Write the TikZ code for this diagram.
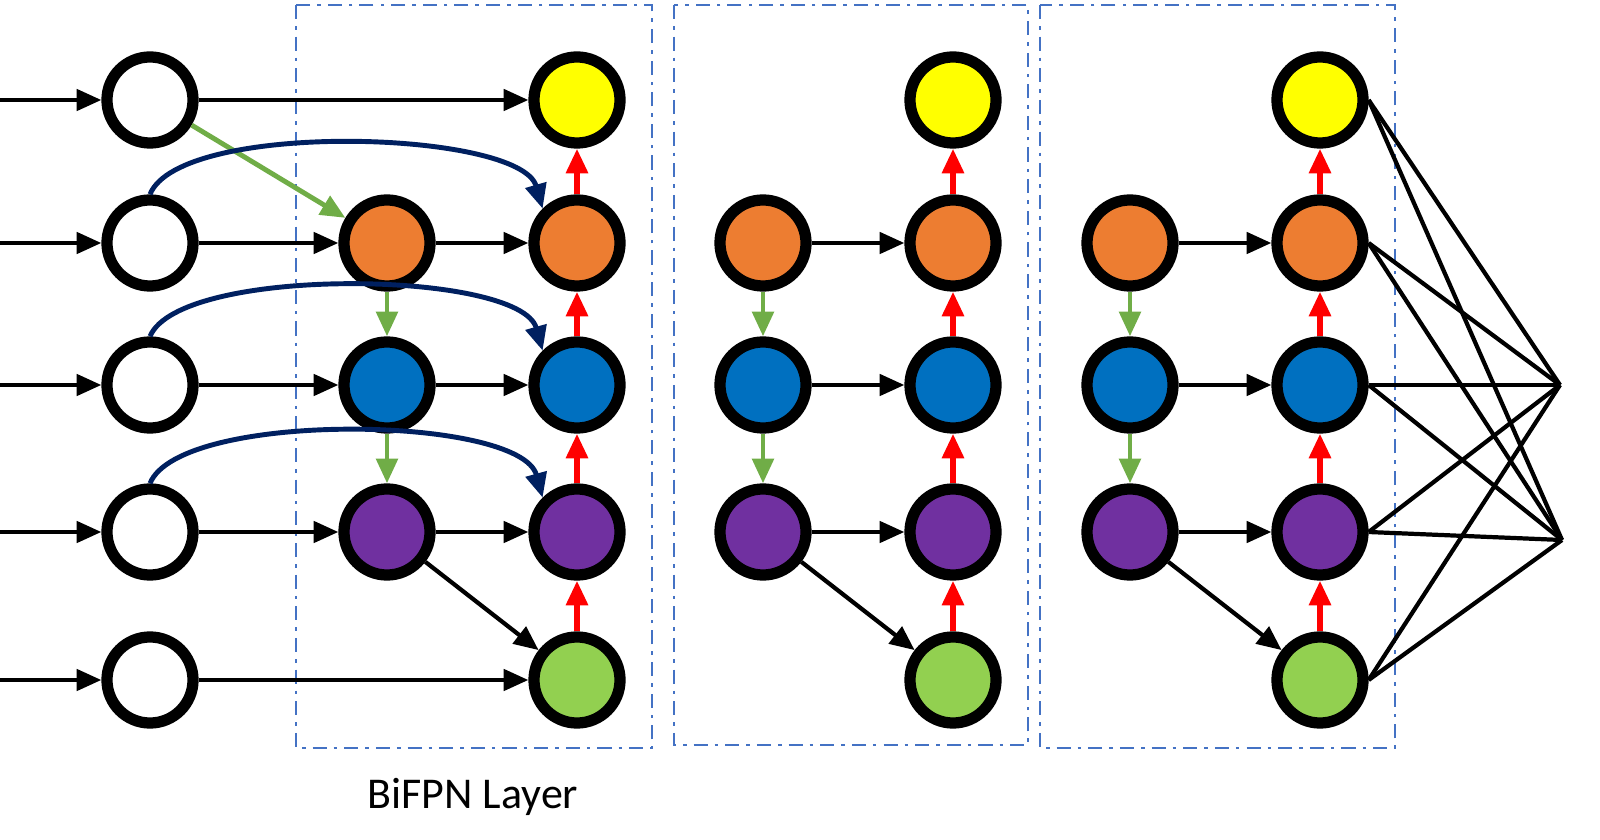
\documentclass[tikz,border=0pt]{standalone}
\usepackage{fontspec}
\setmainfont{Carlito}
\usetikzlibrary{arrows.meta}
\definecolor{cyel}{HTML}{FFFF00}
\definecolor{corg}{HTML}{ED7D31}
\definecolor{cblu}{HTML}{0070C0}
\definecolor{cpur}{HTML}{7030A0}
\definecolor{cgrn}{HTML}{92D050}
\definecolor{cnavy}{HTML}{002060}
\definecolor{cagrn}{HTML}{70AD47}
\definecolor{cbox}{HTML}{4472C4}
\begin{document}
\begin{tikzpicture}[x=0.01cm,y=-0.01cm,
  nd/.style={circle,draw=black,line width=3.2pt,minimum size=0.86cm,inner sep=0},
  blkarr/.style={-{Triangle[length=7pt,width=6pt]},line width=1.2pt,black},
  redarr/.style={-{Triangle[length=7pt,width=6pt]},line width=1.6pt,draw=red},
  grnarr/.style={-{Triangle[length=7pt,width=6pt]},line width=1.4pt,draw=cagrn},
  navarr/.style={-{Triangle[length=7pt,width=6pt]},line width=1.4pt,draw=cnavy},
  box/.style={draw=cbox,line width=0.7pt,dash pattern=on 4pt off 2pt on 1pt off 2pt}]
\useasboundingbox (0,0) rectangle (1600,840);
\draw[box] (296,5) rectangle (652,748);
\draw[box] (674,5) rectangle (1028,745);
\draw[box] (1040,5) rectangle (1395,748);
\node at (473,797) {\fontsize{12.5}{15}\selectfont BiFPN Layer};
\foreach \i/\y in {1/100,2/243,3/385,4/532,5/680}{
  \node[nd,fill=white] (in\i) at (150,\y) {};
  \coordinate (s\i) at (0,\y);
  \draw[blkarr] (s\i) -- (in\i);
}
\foreach \L/\a/\b in {1/387/577,2/763/953,3/1130/1320}{
  \node[nd,fill=cyel] (o\L1) at (\b,100) {};
  \node[nd,fill=corg] (o\L2) at (\b,243) {};
  \node[nd,fill=cblu] (o\L3) at (\b,385) {};
  \node[nd,fill=cpur] (o\L4) at (\b,532) {};
  \node[nd,fill=cgrn] (o\L5) at (\b,680) {};
  \node[nd,fill=corg] (m\L2) at (\a,243) {};
  \node[nd,fill=cblu] (m\L3) at (\a,385) {};
  \node[nd,fill=cpur] (m\L4) at (\a,532) {};
  \draw[blkarr] (m\L2) -- (o\L2);
  \draw[blkarr] (m\L3) -- (o\L3);
  \draw[blkarr] (m\L4) -- (o\L4);
  \draw[blkarr] (m\L4) -- (o\L5);
  \draw[grnarr] (m\L2) -- (m\L3);
  \draw[grnarr] (m\L3) -- (m\L4);
  \draw[redarr] (o\L5) -- (o\L4);
  \draw[redarr] (o\L4) -- (o\L3);
  \draw[redarr] (o\L3) -- (o\L2);
  \draw[redarr] (o\L2) -- (o\L1);
}
\draw[blkarr] (in1) -- (o11);
\draw[blkarr] (in2) -- (m12);
\draw[blkarr] (in3) -- (m13);
\draw[blkarr] (in4) -- (m14);
\draw[blkarr] (in5) -- (o15);
\draw[grnarr] (in1) -- (m12);
\draw[navarr] (in2.north) .. controls (180,120) and (520,130) .. (o12.north west);
\draw[navarr] (in3.north) .. controls (180,265) and (520,270) .. (o13.north west);
\draw[navarr] (in4.north) .. controls (180,410) and (520,415) .. (o14.north west);
\coordinate (p1) at (1560,385);
\coordinate (p2) at (1562,540);
\foreach \k in {1,...,5}{
  \draw[line width=1.2pt] (o3\k.east) -- (p1);
  \draw[line width=1.2pt] (o3\k.east) -- (p2);
}
\end{tikzpicture}
\end{document}
